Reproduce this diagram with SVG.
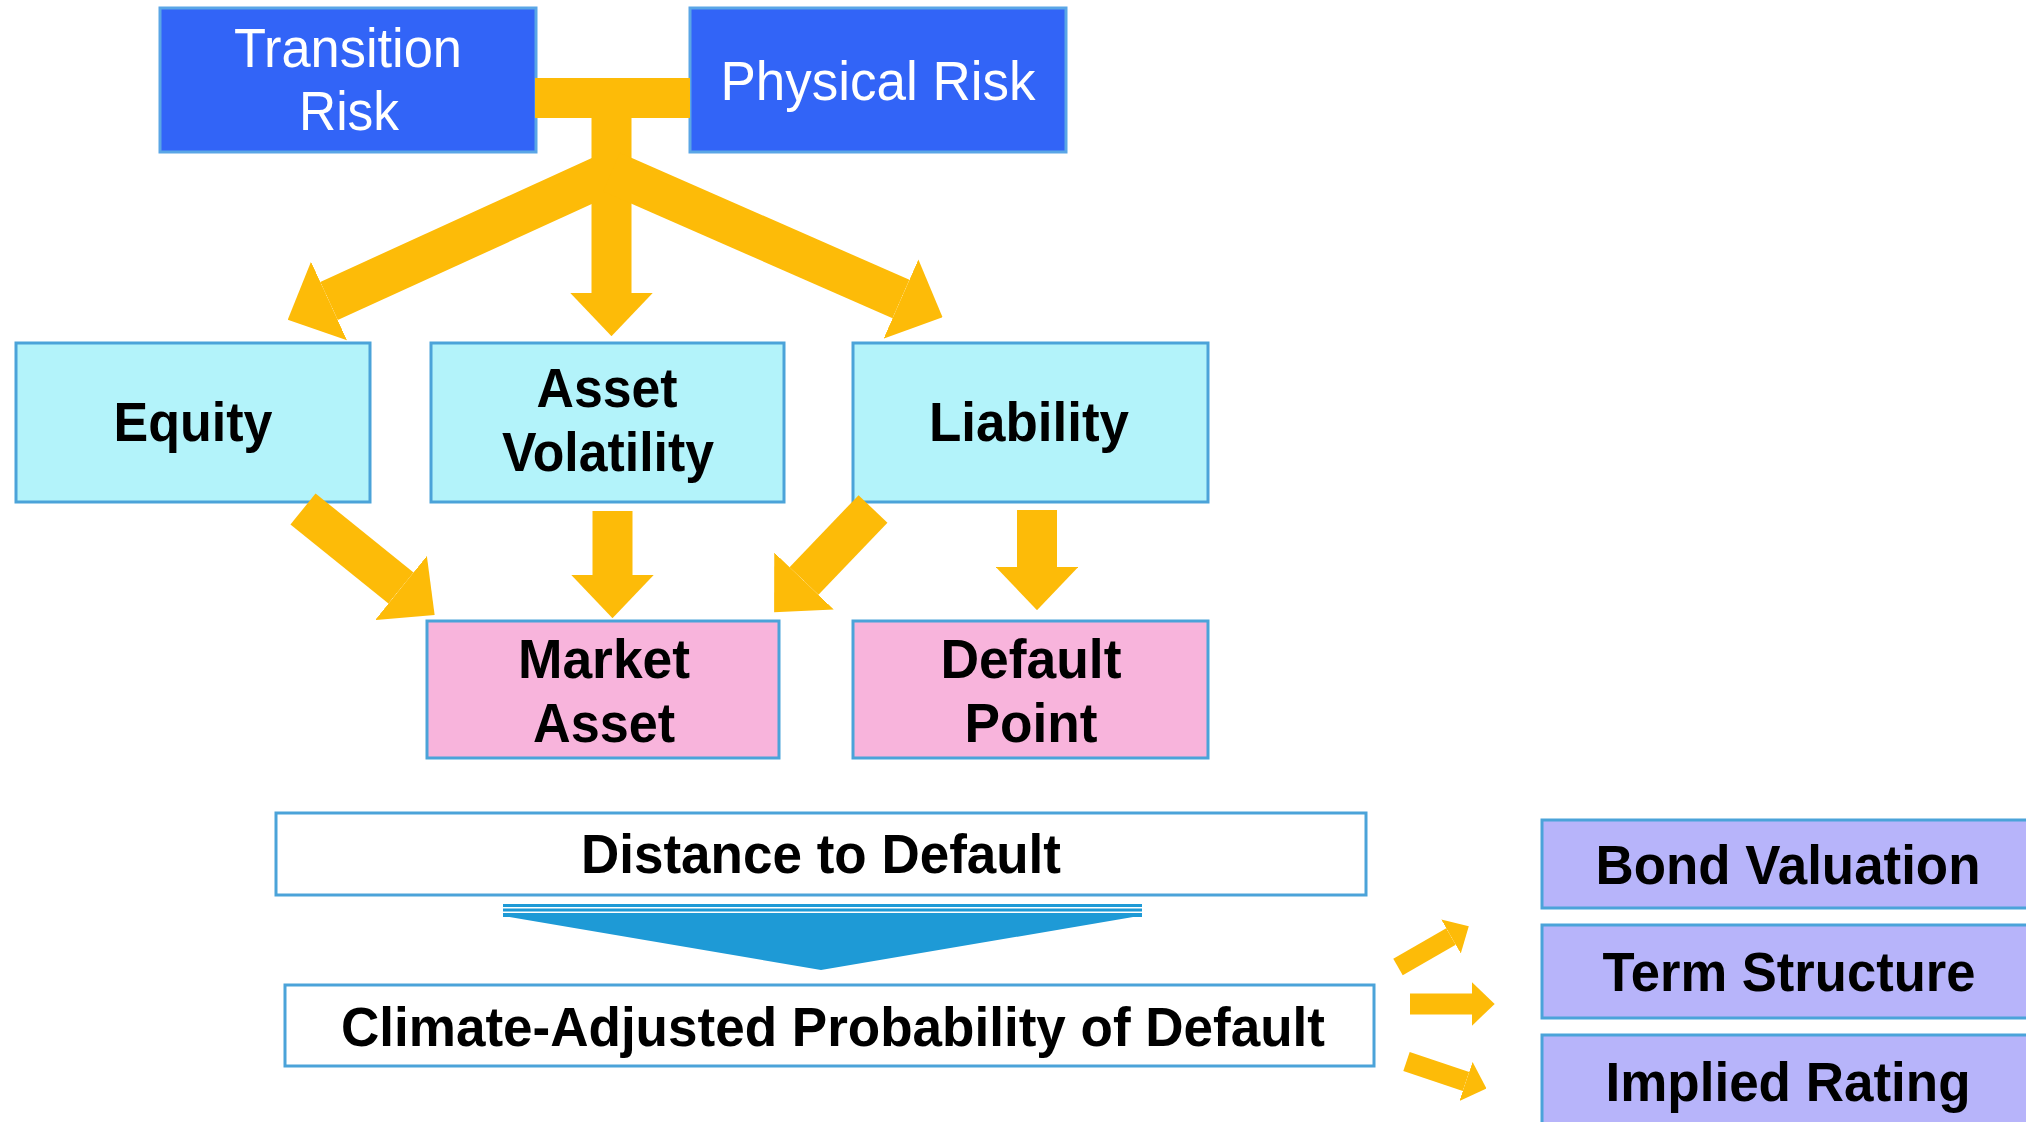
<svg xmlns="http://www.w3.org/2000/svg" width="2026" height="1122" viewBox="0 0 2026 1122">
<style>
.t{font-family:"Liberation Sans",Arial,sans-serif;font-size:56px;text-anchor:middle;fill:#000;font-weight:bold}
.w{font-family:"Liberation Sans",Arial,sans-serif;font-size:56px;text-anchor:middle;fill:#fff}
.risk{fill:#3264F7;stroke:#5AA6E6;stroke-width:3}
.cyan{fill:#B3F3FA;stroke:#4BA3D9;stroke-width:3}
.pink{fill:#F8B4DC;stroke:#4BA3D9;stroke-width:3}
.white{fill:#fff;stroke:#4BA3D9;stroke-width:3}
.lav{fill:#B7B4FA;stroke:#4BA3D9;stroke-width:3}
.arr{stroke:#FDBB08;fill:none;marker-end:url(#ah)}
</style>
<defs>
<marker id="ah" markerUnits="strokeWidth" viewBox="0 -1.03 1.08 2.06" markerWidth="1.08" markerHeight="2.06" refX="0" refY="0" orient="auto"><path d="M0,-1.03 L1.08,0 L0,1.03 Z" fill="#FDBB08"/></marker>
</defs>
<rect width="2026" height="1122" fill="#fff"/>
<g id="transition-risk"><rect class="risk" x="160" y="8" width="376" height="144"/><text class="w" x="348" y="67" textLength="228" lengthAdjust="spacingAndGlyphs">Transition</text><text class="w" x="349" y="130" textLength="100" lengthAdjust="spacingAndGlyphs">Risk</text></g>
<g id="physical-risk"><rect class="risk" x="690" y="8" width="376" height="144"/><text class="w" x="878" y="100" textLength="315" lengthAdjust="spacingAndGlyphs">Physical Risk</text></g>
<g id="equity"><rect class="cyan" x="16" y="343" width="354" height="159"/><text class="t" x="193" y="441" textLength="159" lengthAdjust="spacingAndGlyphs">Equity</text></g>
<g id="asset-volatility"><rect class="cyan" x="431" y="343" width="353" height="159"/><text class="t" x="607" y="407" textLength="141" lengthAdjust="spacingAndGlyphs">Asset</text><text class="t" x="608" y="471" textLength="212" lengthAdjust="spacingAndGlyphs">Volatility</text></g>
<g id="liability"><rect class="cyan" x="853" y="343" width="355" height="159"/><text class="t" x="1029" y="441" textLength="200" lengthAdjust="spacingAndGlyphs">Liability</text></g>
<g id="market-asset"><rect class="pink" x="427" y="621" width="352" height="137"/><text class="t" x="604" y="678" textLength="172" lengthAdjust="spacingAndGlyphs">Market</text><text class="t" x="604" y="742" textLength="142" lengthAdjust="spacingAndGlyphs">Asset</text></g>
<g id="default-point"><rect class="pink" x="853" y="621" width="355" height="137"/><text class="t" x="1031" y="678" textLength="181" lengthAdjust="spacingAndGlyphs">Default</text><text class="t" x="1031" y="742" textLength="133" lengthAdjust="spacingAndGlyphs">Point</text></g>
<g id="distance-to-default"><rect class="white" x="276" y="813" width="1090" height="82"/><text class="t" x="821" y="873" textLength="480" lengthAdjust="spacingAndGlyphs">Distance to Default</text></g>
<g id="climate-pd"><rect class="white" x="285" y="985" width="1089" height="81"/><text class="t" x="833" y="1046" textLength="984" lengthAdjust="spacingAndGlyphs">Climate-Adjusted Probability of Default</text></g>
<g id="bond-valuation"><rect class="lav" x="1542" y="820" width="500" height="88"/><text class="t" x="1788" y="884" textLength="385" lengthAdjust="spacingAndGlyphs">Bond Valuation</text></g>
<g id="term-structure"><rect class="lav" x="1542" y="925" width="500" height="93"/><text class="t" x="1789" y="991" textLength="373" lengthAdjust="spacingAndGlyphs">Term Structure</text></g>
<g id="implied-rating"><rect class="lav" x="1542" y="1035" width="500" height="100"/><text class="t" x="1788" y="1101" textLength="365" lengthAdjust="spacingAndGlyphs">Implied Rating</text></g>
<g id="connectors">
<line x1="535" y1="98" x2="690" y2="98" stroke="#FDBB08" stroke-width="40"/>
<line class="arr" x1="611.5" y1="172" x2="329" y2="301" stroke-width="42"/>
<line class="arr" x1="611.5" y1="100" x2="611.5" y2="293" stroke-width="40"/>
<line class="arr" x1="611.5" y1="172" x2="901" y2="299" stroke-width="42"/>
<line class="arr" x1="303" y1="509" x2="401" y2="588" stroke-width="40"/>
<line class="arr" x1="612.5" y1="511" x2="612.5" y2="575" stroke-width="40"/>
<line class="arr" x1="873" y1="509" x2="804" y2="581" stroke-width="40"/>
<line class="arr" x1="1037" y1="510" x2="1037" y2="567" stroke-width="40"/>
<line class="arr" x1="1398" y1="967" x2="1451" y2="936.5" stroke-width="19"/>
<line class="arr" x1="1410" y1="1004" x2="1472" y2="1004" stroke-width="21"/>
<line class="arr" x1="1406.5" y1="1061.5" x2="1466" y2="1081.5" stroke-width="20"/>
<g id="down-chevron" fill="#1E9AD6">
<rect x="503" y="904" width="639" height="3"/>
<rect x="503" y="908.5" width="639" height="3"/>
<rect x="503" y="913" width="639" height="4"/>
<polygon points="506,916.5 1136,916.5 821,970"/>
</g>
</g>
</svg>
